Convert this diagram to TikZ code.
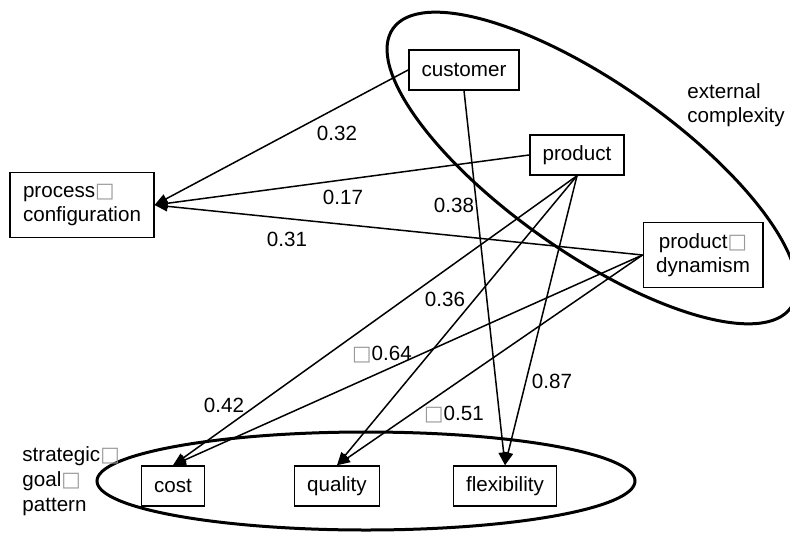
\documentclass[tikz,border=0pt]{standalone}
\usepackage{fontspec}
\setmainfont{Liberation Sans}
\newfontfamily\boxfont{DejaVu Sans}
\usetikzlibrary{arrows.meta}

% placeholder glyph as printed in the figure
\newcommand{\tofu}{{\boxfont\textcolor{black!40}{□}}}

\begin{document}
\begin{tikzpicture}[
		x=0.5pt, y=-0.5pt,
		>={Triangle[length=6.5pt, width=5pt]},
		font=\fontsize{10.3pt}{12pt}\selectfont,
		factor/.style={draw, line width=0.75pt, inner xsep=6.4pt, inner ysep=0pt, minimum height=20pt},
		twoline/.style={factor, minimum height=32.5pt},
		link/.style={->, line width=0.75pt},
		coef/.style={inner sep=1pt},
		grouptext/.style={align=left, anchor=west, inner sep=0pt},
		group/.style={line width=1.5pt}
		]
		\useasboundingbox (0,0) rectangle (790,534);
		
		% The two groups
		\draw[group] (366,481) ellipse [x radius=269, y radius=49];
		\draw[group, shift={(592,168)}, rotate=-35] (0,0) ellipse [x radius=243, y radius=85];
		
		% Factors of external complexity
		\node[factor] (customer) at (464,70) {customer};
		\node[factor] (product) at (577,155) {product};
		\node[twoline, align=center] (dynamism) at (703,255) {product\tofu\\dynamism};
		
		% Process and goals
		\node[twoline, align=left] (process) at (82,205) {process\tofu\\configuration};
		\node[factor] (cost) at (173,486) {cost};
		\node[factor] (quality) at (337,486) {quality};
		\node[factor] (flexibility) at (505,486) {flexibility};
		
		% Group names
		\node[grouptext] (external) at (687,105) {external\\complexity};
		\node[grouptext, font=\fontsize{10.3pt}{12.5pt}\selectfont] (strategic) at (22,481) {strategic\tofu\\goal\tofu\\pattern};
		
		% Paths to the process configuration
		\draw[link] (customer.west) -- (process.east);
		\draw[link] (product.west) -- (process.east);
		\draw[link] (dynamism.west) -- (process.east);
		
		% Paths to the strategic goals
		\draw[link] (customer.south) -- (flexibility.north);
		\draw[link] (product.south) -- (cost.north);
		\draw[link] (product.south) -- (quality.north);
		\draw[link] (product.south) -- (flexibility.north);
		\draw[link] (dynamism.west) -- (cost.north);
		\draw[link] (dynamism.west) -- (quality.north);
		
		% Path coefficients
		\node[coef] (c1) at (337,133) {0.32};
		\node[coef] (c2) at (343,197) {0.17};
		\node[coef] (c3) at (287,239) {0.31};
		\node[coef] (c4) at (454,205) {0.38};
		\node[coef] (c5) at (445,299) {0.36};
		\node[coef] (c6) at (382,355) {\tofu0.64};
		\node[coef] (c7) at (552,381) {0.87};
		\node[coef] (c8) at (224,405) {0.42};
		\node[coef] (c9) at (454,415) {\tofu0.51};
		
	\end{tikzpicture}
\end{document}
